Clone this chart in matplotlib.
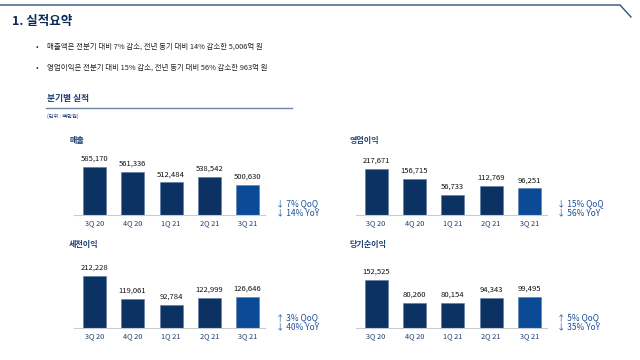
import matplotlib
matplotlib.use("Agg")
import matplotlib.pyplot as plt
from matplotlib.lines import Line2D

plt.rcParams['font.family'] = ['Noto Sans CJK KR', 'DejaVu Sans']

quarters = ["3Q 20", "4Q 20", "1Q 21", "2Q 21", "3Q 21"]
sales = [585170, 561336, 512484, 538542, 500630]
op_profit = [217671, 156715, 56733, 112769, 96251]
pretax = [212228, 119061, 92784, 122999, 126646]
net_income = [152525, 80260, 80154, 94343, 99495]

chart_titles = ["매출", "영업이익", "세전이익", "당기순이익"]
qoq_lines = ["↓ 7% QoQ", "↓ 15% QoQ", "↑ 3% QoQ", "↑ 5% QoQ"]
yoy_lines = ["↓ 14% YoY", "↓ 56% YoY", "↓ 40% YoY", "↓ 35% YoY"]

title = "1. 실적요약"
bullets = ["매출액은 전분기 대비 7% 감소, 전년 동기 대비 14% 감소한 5,006억 원",
           "영업이익은 전분기 대비 15% 감소, 전년 동기 대비 56% 감소한 963억 원"]
section = "분기별 실적"
unit = "(단위 : 백만원)"

W, H = 640, 360
fig = plt.figure(figsize=(6.4, 3.6), dpi=100)
fig.patch.set_facecolor("white")

NAVY = "#0b3263"
BRIGHT = "#0a4a97"
TXT = "#1f3f73"
ANN = "#1c4f9c"


def fx(x):
    return x / W


def fy(y):
    return 1 - y / H


# top decorative line
fig.add_artist(Line2D([fx(0), fx(620), fx(631)], [fy(5), fy(5), fy(17)],
                      color="#2f5077", lw=1.0, transform=fig.transFigure))

fig.text(fx(12), fy(22), title, fontsize=9.0, fontweight="bold",
         color="#0b2a55", va="center", ha="left")
for i, b in enumerate(bullets):
    y = 47 + i * 21
    fig.text(fx(36), fy(y), "•", fontsize=5.5, color="#222222", va="center")
    fig.text(fx(47), fy(y), b, fontsize=5.35, color="#222222", va="center",
             fontweight="medium")

fig.text(fx(47), fy(98), section, fontsize=6.3, fontweight="bold",
         color=TXT, va="center")
fig.add_artist(Line2D([fx(46), fx(292)], [fy(108), fy(108)],
                      color="#6f87a6", lw=1.0, transform=fig.transFigure))
fig.text(fx(47), fy(116), unit, fontsize=3.8, color=TXT, va="center")

datasets = [sales, op_profit, pretax, net_income]
# (left px, baseline px, ylim bottom, px per unit)
layout = [
    (74, 215, 359770, 2.13e-4),
    (355.7, 215, -72222, 1.579e-4),
    (74, 328.3, 0, 2.48e-4),
    (355.7, 328.3, 0, 3.18e-4),
]
title_pos = [(70, 141), (350, 141), (69, 245), (349, 245)]
ann_x = [275.7, 557, 275.7, 557]

AX_W = 191
AX_H = 70
for k, (vals, (lx, base, b, a)) in enumerate(zip(datasets, layout)):
    ax = fig.add_axes([fx(lx), fy(base), AX_W / W, AX_H / H])
    ax.set_xlim(-0.53, 4.45)
    ax.set_ylim(b, b + AX_H / a)
    x = list(range(len(quarters)))
    colors = [NAVY] * 4 + [BRIGHT]
    ax.bar(x, [v - b for v in vals], bottom=b, width=0.6, color=colors,
           edgecolor="#5b79a3", linewidth=0.4, zorder=2)
    for xi, v in zip(x, vals):
        ax.annotate(f"{v:,}", (xi, v), xytext=(0, 3), textcoords="offset points",
                    ha="center", va="bottom", fontsize=5.5, color="#111111",
                    fontweight="medium")
    for s in ["top", "right", "left"]:
        ax.spines[s].set_visible(False)
    ax.spines["bottom"].set_color("#c8ccd2")
    ax.spines["bottom"].set_linewidth(0.8)
    ax.set_yticks([])
    ax.set_xticks(x)
    ax.set_xticklabels(quarters, fontsize=5.3, color=TXT)
    ax.tick_params(axis="x", length=0, pad=3)
    ax.patch.set_alpha(0)
    tx, ty = title_pos[k]
    fig.text(fx(tx), fy(ty), chart_titles[k], fontsize=5.8, fontweight="bold",
             color=TXT, va="center")
    fig.text(fx(ann_x[k]), fy(base - 11), qoq_lines[k], fontsize=6.0,
             color=ANN, va="center")
    fig.text(fx(ann_x[k]), fy(base - 2), yoy_lines[k], fontsize=6.0,
             color=ANN, va="center")

fig.savefig("out.png", dpi=100, facecolor="white")
